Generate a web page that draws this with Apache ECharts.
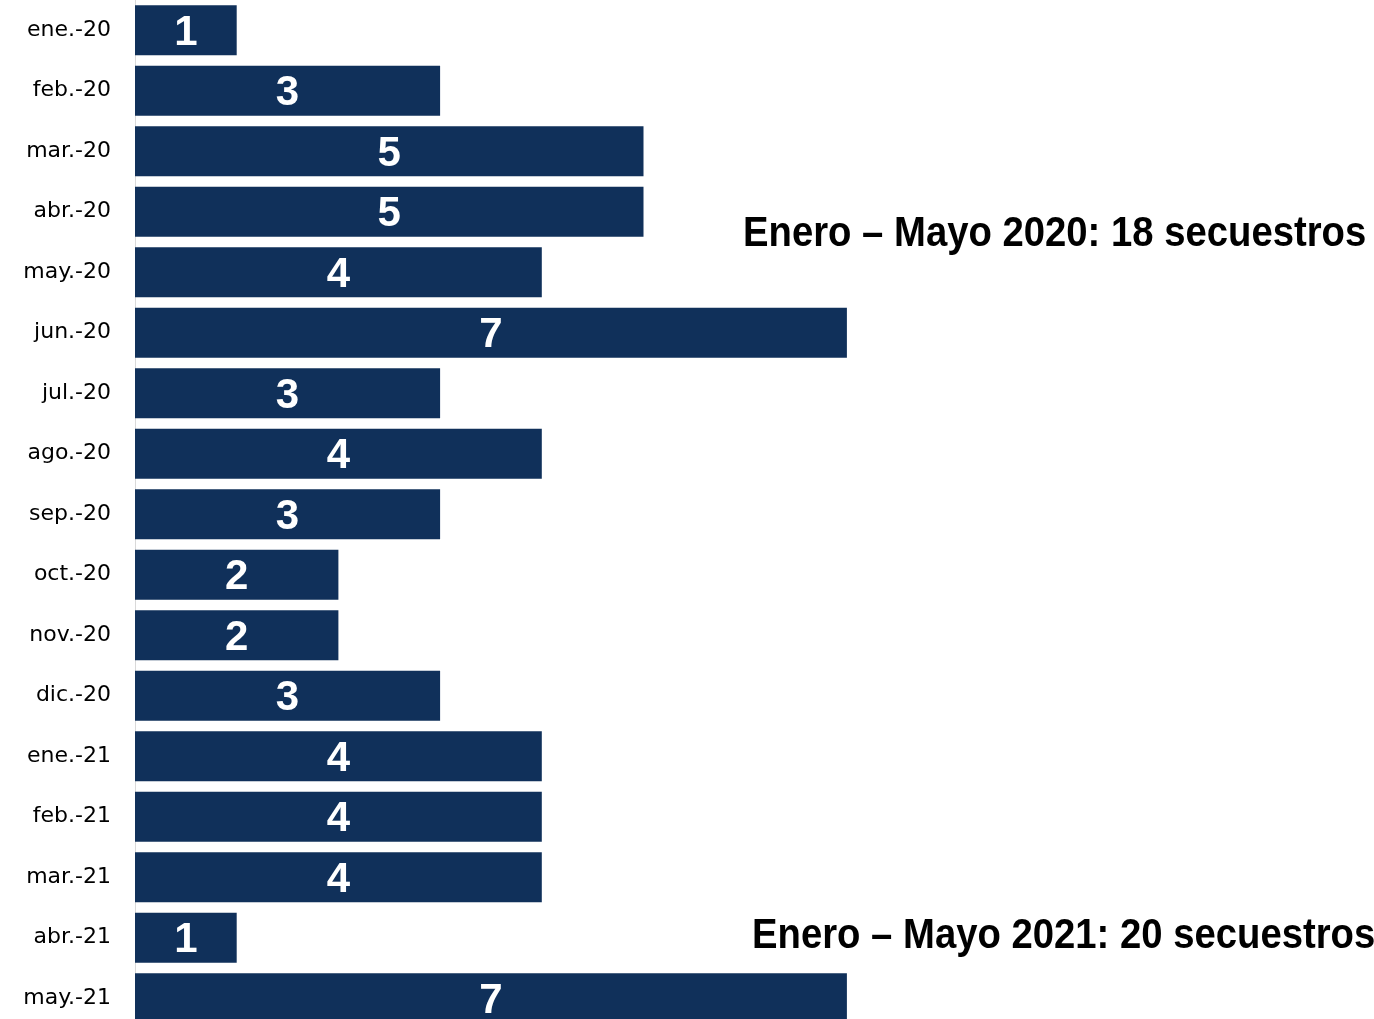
<!DOCTYPE html>
<html>
<head>
<meta charset="utf-8">
<script src="https://cdn.jsdelivr.net/npm/echarts@6/dist/echarts.min.js"></script>
<style>html,body{margin:0;padding:0;background:#fff;overflow:hidden;}#c{width:1374px;height:1029px;}</style>
</head>
<body>
<div id="c"></div>
<script>
const categories = ['ene.-20','feb.-20','mar.-20','abr.-20','may.-20','jun.-20','jul.-20','ago.-20','sep.-20','oct.-20','nov.-20','dic.-20','ene.-21','feb.-21','mar.-21','abr.-21','may.-21'];
const values = [1,3,5,5,4,7,3,4,3,2,2,3,4,4,4,1,7];
const note2020 = 'Enero – Mayo 2020: 18 secuestros';
const note2021 = 'Enero – Mayo 2021: 20 secuestros';

const chart = echarts.init(document.getElementById('c'), null, {renderer: 'canvas'});
chart.setOption({
  animation: false,
  backgroundColor: '#ffffff',
  grid: {left: 135, top: 0, right: 18.6, bottom: 0.5, containLabel: false},
  xAxis: {type: 'value', min: 0, max: 12, show: false},
  yAxis: {
    type: 'category', data: categories, inverse: true,
    axisLine: {show: true, lineStyle: {color: '#d9d9d9', width: 1}},
    axisTick: {show: false},
    axisLabel: {color: '#000', fontFamily: '"DejaVu Sans", sans-serif', fontSize: 22, margin: 24,
      backgroundColor: 'rgba(255,255,255,0)', padding: [5, 0, 0, 0]}
  },
  series: [{
    type: 'bar', data: values, barCategoryGap: '17.4%',
    itemStyle: {color: '#10305a'},
    label: {show: true, position: 'inside', offset: [0, 3], color: '#fff',
      fontFamily: '"Liberation Sans", Arial, sans-serif', fontWeight: 'bold', fontSize: 42}
  }],
  graphic: [
    {type: 'text', x: 743, y: 234, scaleX: 0.89, style: {text: note2020, fill: '#000', font: 'bold 43px "Liberation Sans", Arial, sans-serif', textAlign: 'left', textVerticalAlign: 'middle'}},
    {type: 'text', x: 752, y: 936, scaleX: 0.89, style: {text: note2021, fill: '#000', font: 'bold 43px "Liberation Sans", Arial, sans-serif', textAlign: 'left', textVerticalAlign: 'middle'}}
  ]
});
</script>
</body>
</html>
